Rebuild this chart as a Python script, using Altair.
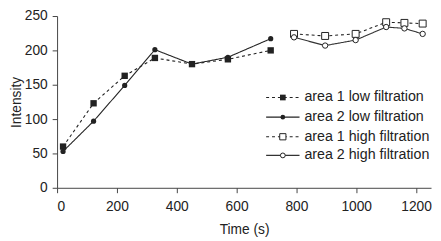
import altair as alt
import pandas as pd

# ---- data ----
t_low = [20, 122, 226, 327, 451, 571, 714]
a1_low = [60, 123, 163, 189, 180, 187, 200]
a2_low = [53, 97, 149, 201, 180, 190, 217]
t_high = [792, 896, 998, 1100, 1161, 1222]
a1_high = [224, 221, 224, 241, 240, 239]
a2_high = [219, 207, 215, 234, 232, 224]
series_names = ["area 1 low filtration", "area 2 low filtration",
                "area 1 high filtration", "area 2 high filtration"]
x_ticks = [0, 200, 400, 600, 800, 1000, 1200]
y_ticks = [0, 50, 100, 150, 200, 250]

FONT = "Liberation Sans"
INK = "#222222"

# style per series: (dash, shape, filled, marker size, line colour)
styles = {
    series_names[0]: ([3, 3], "square", True, 42, INK),
    series_names[1]: ([1, 0], "circle", True, 28, INK),
    series_names[2]: ([3, 3], "square", False, 50, INK),
    series_names[3]: ([1, 0], "circle", False, 30, "#333333"),
}
data = {
    series_names[0]: (t_low, a1_low),
    series_names[1]: (t_low, a2_low),
    series_names[2]: (t_high, a1_high),
    series_names[3]: (t_high, a2_high),
}

xscale = alt.Scale(domain=[0, 1250], nice=False)
yscale = alt.Scale(domain=[0, 250], nice=False)
xaxis = alt.Axis(values=x_ticks, title="Time (s)", grid=False, format="d",
                 labelPadding=7, titlePadding=10)
yaxis = alt.Axis(values=y_ticks, title="Intensity", grid=False, format="d",
                 labelPadding=5, titlePadding=1)

layers = []
for name in series_names:
    t, v = data[name]
    dash, shape, filled, size, col = styles[name]
    df = pd.DataFrame({"t": t, "v": v})
    base = alt.Chart(df).encode(
        x=alt.X("t:Q", scale=xscale, axis=xaxis),
        y=alt.Y("v:Q", scale=yscale, axis=yaxis),
    )
    layers.append(base.mark_line(color=col, strokeDash=dash, strokeWidth=1.1))
    layers.append(base.mark_point(shape=shape, filled=filled, size=size,
                                  color=INK, fill=INK if filled else "white",
                                  opacity=1, strokeWidth=1))

# ---- manual legend (pixel placement inside plot area) ----
dummy = pd.DataFrame({"a": [0]})
row_y = [83, 103, 123, 142]
for name, yy in zip(series_names, row_y):
    dash, shape, filled, size, col = styles[name]
    layers.append(alt.Chart(dummy).mark_rule(color=col, strokeDash=dash, strokeWidth=1.1).encode(
        x=alt.value(213), x2=alt.value(247), y=alt.value(yy)))
    layers.append(alt.Chart(dummy).mark_point(shape=shape, filled=filled, size=size * 0.8,
                                              color=INK, fill=INK if filled else "white",
                                              opacity=1, strokeWidth=1).encode(
        x=alt.value(230), y=alt.value(yy)))
    layers.append(alt.Chart(dummy).mark_text(text=name, align="left", baseline="middle",
                                             font=FONT, fontSize=14.5, color=INK).encode(
        x=alt.value(252), y=alt.value(yy)))

chart = alt.layer(*layers).properties(
    width=381, height=175,
    autosize=alt.AutoSizeParams(type="none"),
    padding={"left": 50, "top": 6, "right": 2, "bottom": 51},
).configure_view(stroke=None).configure_axis(
    labelFont=FONT, titleFont=FONT, labelFontSize=14, titleFontSize=14,
    titleFontWeight="normal", labelColor=INK, titleColor=INK,
    domainColor="#444444", tickColor="#444444", tickSize=5,
)

chart.save("out.html", embed_options={"renderer": "svg", "actions": False})
